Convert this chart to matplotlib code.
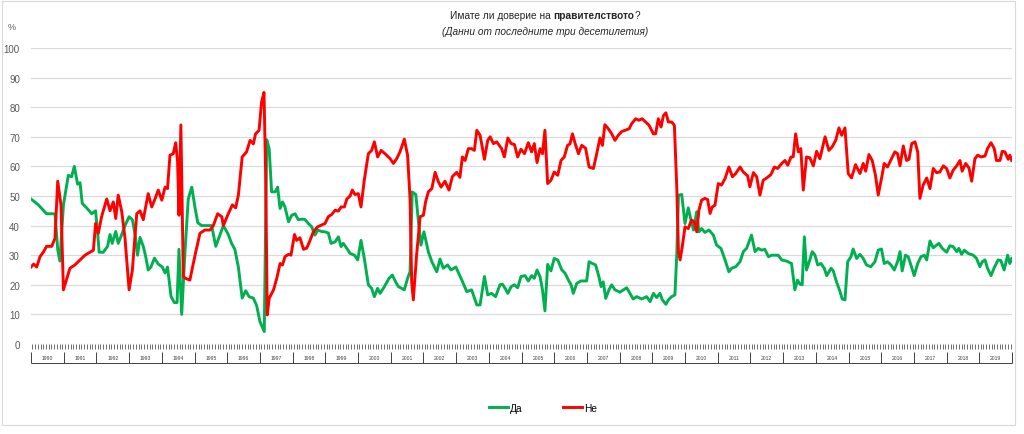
import matplotlib
matplotlib.use('Agg')
import matplotlib.pyplot as plt
from matplotlib.patches import Rectangle
import numpy as np

plt.rcParams['font.family'] = ['Liberation Sans', 'DejaVu Sans']

# months counted from January 1990, values in %
da_points = [
    (0.0, 49), (2.7, 47), (5.7, 44), (8.8, 44), (9.8, 32), (10.6, 28), (11.9, 47), (13.7, 57),
    (14.9, 56.5), (15.9, 60), (17.1, 54), (18.0, 54.5), (18.8, 47.5), (20.4, 46), (22.3, 44),
    (23.7, 45), (24.5, 37), (25.0, 31), (26.5, 31), (28.1, 33), (29.0, 37), (29.8, 34), (31.1, 38),
    (32.0, 34), (33.3, 37), (34.5, 40), (36.0, 43), (37.2, 42), (38.2, 37), (39.1, 30), (40.0, 36),
    (41.2, 33), (42.1, 29.5), (43.0, 25), (44.0, 26), (45.3, 29), (46.7, 27), (48.2, 26), (49.2, 24),
    (50.1, 26), (51.4, 16), (52.6, 14), (53.6, 14), (54.3, 32), (55.3, 10), (56.5, 31), (57.7, 49),
    (59.0, 53), (60.2, 46), (61.2, 41), (62.6, 40), (64.5, 40), (66.3, 40), (67.8, 33), (69.0, 36),
    (70.6, 40), (72.4, 37), (73.6, 34), (74.8, 32), (76.1, 26), (77.5, 15.5), (78.8, 18), (80.0, 16),
    (81.6, 15.5), (82.8, 13), (84.0, 7.6), (85.6, 4.2), (86.5, 69), (87.4, 66), (88.3, 51.4),
    (89.6, 51.4), (90.5, 53), (91.4, 45.8), (92.3, 48), (93.2, 46.3), (94.5, 41.3), (95.7, 43.5),
    (96.9, 44), (98.1, 42), (99.6, 42.2), (100.6, 42), (101.8, 40.7), (103.0, 39.6), (104.2, 36.8),
    (105.2, 38.5), (106.7, 38), (107.9, 37.9), (109.1, 37.5), (110.1, 34), (111.6, 34.5),
    (112.8, 36.2), (113.8, 32.9), (114.6, 34), (115.9, 32.3), (117.1, 30.6), (118.7, 30),
    (119.9, 28.4), (121.1, 35), (122.3, 29), (123.8, 20), (125.0, 18.8), (126.0, 16), (127.2, 18.8),
    (128.1, 17.1), (129.7, 19.4), (131.4, 22.2), (132.6, 23.3), (133.8, 21), (134.8, 19.4),
    (137.0, 18.3), (138.2, 22.2), (139.1, 24.4), (139.9, 51.4), (141.2, 50.5), (142.2, 41.3),
    (143.1, 33.4), (144.2, 37.9), (145.8, 31.2), (147.1, 27.8), (148.9, 24.4), (150.1, 28.7),
    (151.3, 25.6), (152.9, 26.7), (154.1, 25), (155.9, 26), (158.1, 21.6), (159.9, 17.7),
    (161.7, 18.3), (163.6, 13.2), (164.8, 13.2), (166.4, 22.8), (167.6, 16.6), (169.0, 17.1),
    (170.5, 16), (172.1, 20), (173.0, 20.2), (174.0, 18.8), (175.0, 17.1), (176.2, 19.4),
    (177.4, 20), (178.6, 19), (179.8, 22.8), (181.3, 23.1), (182.5, 21.3), (183.7, 23.1),
    (184.7, 22.2), (185.7, 25), (186.8, 22.8), (187.7, 18.3), (188.6, 11.2), (189.6, 26.9),
    (190.8, 24.7), (192.0, 28.9), (193.3, 28.4), (194.8, 25), (196.0, 23.9), (197.2, 21.6),
    (198.2, 20), (199.0, 17.1), (200.3, 20.5), (201.8, 21.3), (203.9, 21.3), (204.8, 27.8),
    (206.0, 27.2), (207.2, 26.7), (208.4, 22.8), (209.2, 19.4), (210.0, 21), (210.9, 15.4),
    (212.1, 18.3), (213.1, 20), (214.3, 18.3), (216.1, 17.5), (217.4, 18.3), (218.6, 19),
    (219.8, 17.1), (221.0, 15.2), (222.3, 16), (224.1, 15.2), (225.9, 16), (227.2, 14.3),
    (228.4, 17.1), (229.6, 15.7), (230.8, 17.1), (231.7, 14.9), (233.0, 13.4), (233.9, 14.9),
    (235.1, 16), (236.3, 16.6), (237.0, 30.6), (237.6, 50.3), (238.8, 50.5), (240.0, 40.7),
    (241.2, 46), (242.2, 41.9), (243.1, 38.5), (244.3, 44.7), (245.1, 37.9), (246.1, 39),
    (247.3, 37.7), (248.8, 38.5), (250.4, 36.8), (251.6, 33.4), (253.2, 32.3), (254.7, 28.4),
    (256.1, 24.4), (257.1, 25.6), (258.6, 26.1), (260.2, 27.8), (261.4, 31.2), (262.6, 32.3),
    (264.4, 36.8), (265.7, 31.2), (266.9, 32.3), (268.1, 31.7), (269.3, 32), (270.6, 29.5),
    (271.8, 30), (274.2, 30), (275.5, 28.4), (277.3, 28), (279.1, 27.2), (280.3, 18.3),
    (281.3, 21.6), (282.2, 20.2), (283.0, 20), (283.8, 36.2), (284.6, 25), (285.8, 28.4),
    (286.7, 31.2), (287.7, 30), (288.7, 26.7), (289.9, 27.2), (291.1, 25.6), (292.0, 23.1),
    (293.6, 25.6), (294.4, 24.7), (295.6, 21), (296.9, 17.7), (297.7, 15.2), (298.7, 14.9),
    (299.7, 27.8), (300.9, 29.5), (301.7, 32.1), (303.0, 28.9), (304.2, 30.3), (305.4, 28.9),
    (306.6, 26.7), (308.2, 26.1), (309.7, 27.8), (310.9, 31.7), (312.1, 32.1), (313.1, 27.2),
    (314.3, 27.8), (315.6, 26.7), (316.8, 25), (318.0, 27.8), (318.9, 31.2), (319.7, 24.7),
    (320.9, 30), (321.9, 29.5), (322.9, 26.7), (324.1, 23.1), (325.4, 27.2), (326.6, 29.5),
    (327.8, 30), (328.7, 28.4), (329.9, 34.8), (331.1, 32.5), (332.3, 33.4), (333.2, 34),
    (334.4, 32.3), (336.0, 31), (337.2, 33.2), (338.4, 32.9), (339.7, 31.2), (340.5, 32.3),
    (341.5, 30.3), (342.5, 31.7), (343.9, 30.6), (345.8, 30), (347.0, 28.9), (348.2, 26.1),
    (349.1, 27.8), (350.1, 28.4), (351.0, 25.6), (352.3, 23.1), (353.5, 25.8), (354.9, 28.4),
    (355.9, 28.2), (357.1, 25), (358.4, 30), (359.2, 27.2), (359.9, 28.9),
]

ne_points = [
    (0.0, 26), (1.0, 27), (2.1, 26), (3.3, 29.5), (4.5, 31), (5.7, 33), (7.6, 33), (8.8, 35.7),
    (9.8, 55), (11.0, 47), (11.9, 18.3), (13.1, 22), (14.3, 25.6), (16.1, 26.7), (18.0, 28.4),
    (19.8, 30), (21.6, 31), (22.9, 31.7), (23.7, 40.7), (24.7, 37.4), (25.9, 43), (27.8, 49),
    (29.0, 45), (30.2, 48), (31.1, 42.4), (32.0, 50.3), (33.3, 44.7), (34.5, 35.7), (36.0, 18.3),
    (37.2, 25), (38.8, 44), (40.0, 45), (41.2, 42), (43.0, 50.8), (44.3, 46.3), (45.5, 49),
    (46.7, 52), (48.0, 48.6), (49.2, 53), (50.1, 52.5), (51.0, 63.8), (52.2, 64.3), (53.1, 68),
    (53.8, 61.5), (54.3, 43.5), (55.0, 74), (55.9, 22.7), (57.1, 22), (58.3, 21.6), (60.2, 30),
    (62.0, 37.4), (63.8, 38.5), (65.7, 38.5), (66.9, 40), (68.5, 44), (70.0, 43), (70.6, 40),
    (72.4, 44), (73.9, 47), (75.1, 46), (76.1, 50.3), (77.5, 63.2), (79.1, 64.9), (80.4, 68.8),
    (81.6, 67.6), (82.4, 71), (83.7, 72.2), (84.6, 81.7), (85.5, 85), (86.1, 58), (86.7, 9.8),
    (87.4, 15.4), (89.0, 18.3), (90.2, 22.2), (91.4, 27.2), (92.3, 26.7), (93.2, 29.5),
    (94.5, 30.3), (95.4, 30), (96.7, 37), (97.5, 35), (98.7, 35.9), (100.0, 32), (101.2, 32.4),
    (102.4, 35), (103.6, 37.9), (105.2, 39.6), (106.7, 40.2), (107.9, 40.7), (109.1, 43),
    (110.4, 43.8), (111.6, 45.2), (112.8, 44.9), (113.8, 46.3), (115.0, 46.3), (115.9, 49),
    (117.1, 50), (117.9, 52), (118.9, 50.5), (120.1, 50.8), (121.1, 46.3), (122.3, 55.3),
    (123.8, 64.3), (125.0, 65.4), (126.0, 68.3), (127.2, 63.2), (128.5, 65.4), (129.9, 64.3),
    (131.8, 62.6), (133.0, 61), (134.2, 62.6), (135.4, 64.9), (137.0, 69.2), (138.2, 63.8),
    (139.1, 49), (139.7, 21), (140.3, 14.9), (141.5, 30), (142.8, 43), (144.0, 43.5), (144.8, 48),
    (145.8, 51.4), (147.1, 52.5), (148.3, 58), (149.5, 54.8), (150.5, 53), (151.9, 55),
    (153.4, 52), (154.6, 56.5), (156.2, 58), (157.4, 56.3), (158.3, 63.2), (159.3, 62),
    (160.5, 66), (161.7, 66), (162.7, 65.4), (163.6, 72.2), (164.8, 70.5), (166.4, 62.4),
    (167.6, 68.8), (168.5, 70), (169.7, 67.7), (170.9, 68.3), (172.7, 66), (173.7, 63.2),
    (175.0, 69.6), (176.2, 67.7), (177.4, 67.4), (178.6, 63.2), (179.8, 65.8), (181.1, 64.3),
    (182.5, 68), (183.7, 64.9), (184.7, 67.7), (185.7, 61.3), (186.8, 66), (187.7, 64.3),
    (188.6, 72.2), (189.6, 54.2), (190.8, 55.3), (192.0, 58.1), (193.3, 57), (194.5, 62),
    (195.7, 63.2), (196.9, 67.1), (197.8, 67.6), (198.7, 71), (199.6, 68), (200.9, 64.3),
    (202.1, 67.1), (203.5, 66.2), (204.8, 59.8), (206.4, 59.3), (207.6, 64.3), (208.8, 69.6),
    (209.7, 67.1), (210.6, 74.1), (211.9, 72.7), (213.1, 71), (214.3, 68.8), (215.5, 70.5),
    (216.8, 71.8), (218.0, 72.2), (219.5, 72.7), (220.4, 74.4), (221.9, 76.1), (223.1, 75.6),
    (224.3, 76.1), (225.3, 75.2), (226.8, 73.9), (228.4, 71), (229.2, 71), (230.2, 76.1),
    (231.2, 73.3), (232.1, 77.2), (233.0, 78.1), (233.9, 75), (235.1, 75), (236.1, 73.9),
    (237.0, 52.5), (237.6, 31.2), (238.2, 28.4), (239.0, 32.9), (240.0, 39.6), (241.2, 39),
    (242.4, 41.9), (243.4, 41.3), (244.3, 37.9), (245.1, 45.2), (246.1, 48.6), (247.3, 49.2),
    (248.3, 48.8), (249.2, 44.1), (250.0, 46.3), (251.0, 46.9), (252.2, 54.2), (253.4, 53.7),
    (254.7, 55.9), (256.1, 59.8), (257.4, 56.5), (258.6, 57.6), (260.2, 59.8), (261.4, 58.1),
    (263.0, 56.8), (263.8, 53.1), (265.1, 57.9), (266.3, 56.5), (267.5, 50.3), (268.7, 55.3),
    (270.0, 56.1), (271.5, 57.2), (272.8, 59.8), (274.0, 59.3), (275.5, 61), (276.7, 62),
    (277.7, 60.4), (278.9, 63.2), (279.7, 63.2), (280.6, 71), (281.6, 64.9), (282.5, 66),
    (283.4, 52), (284.6, 63.2), (285.8, 62.9), (287.1, 60.2), (288.3, 65.1), (289.5, 62.6),
    (291.4, 70), (292.8, 65.4), (294.0, 66.6), (295.3, 68.8), (296.5, 73), (297.5, 70.5),
    (298.7, 73), (299.9, 57.6), (301.1, 56.1), (302.6, 60.6), (304.2, 57.6), (305.4, 61),
    (306.3, 58.4), (307.5, 64), (308.7, 62), (309.9, 57), (310.9, 50.3), (312.1, 55.9),
    (313.1, 61), (314.3, 59.8), (315.8, 62.6), (317.0, 64.9), (318.0, 64.3), (318.9, 60.2),
    (320.1, 66.9), (321.3, 62), (322.2, 62.4), (323.2, 67.7), (324.4, 68.3), (325.4, 64.9),
    (326.2, 49.2), (327.4, 53.7), (328.7, 56.1), (329.9, 52.5), (331.1, 59.3), (332.3, 57.9),
    (333.5, 58.1), (334.8, 60.2), (336.0, 59.3), (337.2, 56.1), (338.4, 58.7), (339.7, 60.2),
    (340.9, 62), (341.7, 58.4), (343.0, 61), (344.2, 59.5), (345.2, 55), (346.4, 62.6),
    (347.4, 63.8), (348.6, 63.2), (350.1, 63.5), (351.0, 66), (352.3, 68), (353.5, 66),
    (354.3, 62), (355.6, 62), (356.4, 65.1), (357.4, 64.9), (358.6, 62.4), (359.2, 63.8),
    (359.9, 62),
]

years = list(range(1990, 2020))
y_ticks = list(range(0, 101, 10))

green = '#00b050'
red = '#ff0000'
grey_text = '#595959'
dark = '#262626'

fig = plt.figure(figsize=(10.24, 4.35), dpi=100)
ax = fig.add_axes([31 / 1024, 1 - 345 / 435, (1012 - 31) / 1024, (345 - 49) / 435])

ax.set_ylim(0, 100)
ax.set_xlim(0, len(years) * 12)
ax.set_yticks(y_ticks)
ax.yaxis.grid(True, color='#d9d9d9', linewidth=0.8)
ax.set_axisbelow(True)

dx, dy = zip(*da_points)
nx, ny = zip(*ne_points)
ax.plot(dx, dy, color=green, linewidth=2.1, label='Да', solid_joinstyle='round')
ax.plot(nx, ny, color=red, linewidth=2.1, label='Не', solid_joinstyle='round')

for s in ax.spines.values():
    s.set_visible(False)
ax.tick_params(axis='y', length=0, pad=8, labelsize=7, labelcolor=grey_text)

# dense monthly ticks stand in for the unreadable month labels row
ax.set_xticks([])
ax.set_xticks(np.arange(0.5, len(years) * 12, 1), minor=True)
ax.tick_params(axis='x', which='minor', length=3.5, width=0.7, color='#6e6e6e', direction='out')

# year bands below the axis
trans = ax.get_xaxis_transform()
bounds = [12 * i for i in range(len(years) + 1)]
ax.vlines(bounds, -0.063, -0.028, transform=trans, color='#404040', linewidth=0.7, clip_on=False)
ax.hlines(-0.063, 0, bounds[-1], transform=trans, color='#404040', linewidth=0.7, clip_on=False)
for i, yr in enumerate(years):
    ax.text(12 * i + 6, -0.046, str(yr), transform=trans, ha='center', va='center',
            fontsize=3.6, color='#404040')

# title, one word in bold
t1 = fig.text(450 / 1024, 1 - 16 / 435, 'Имате ли доверие на ', fontsize=7.3,
              color=dark, va='center', ha='left')
t2 = ax.annotate('правителството', xy=(1, 0.5), xycoords=t1, va='center', ha='left',
                 fontsize=7.3, fontweight='bold', color=dark, annotation_clip=False)
ax.annotate('?', xy=(1, 0.5), xycoords=t2, va='center', ha='left',
            fontsize=7.3, color=dark, annotation_clip=False)
fig.text(545 / 1024, 1 - 32 / 435, '(Данни от последните три десетилетия)', fontsize=7.3,
         style='italic', color=dark, ha='center', va='center')
fig.text(12 / 1024, 1 - 28 / 435, '%', fontsize=6.5, color=grey_text, ha='center', va='center')

fig.legend(loc='center', bbox_to_anchor=(543 / 1024, 1 - 409 / 435), ncol=2, frameon=False,
           fontsize=7.3, handlelength=1.9, handletextpad=0.15, columnspacing=4.0)

fig.patches.append(Rectangle((2 / 1024, 1 - 426 / 435), 1013 / 1024, 424 / 435,
                             transform=fig.transFigure, fill=False, edgecolor='#d9d9d9',
                             linewidth=0.8))

fig.savefig('out.png', dpi=100)
